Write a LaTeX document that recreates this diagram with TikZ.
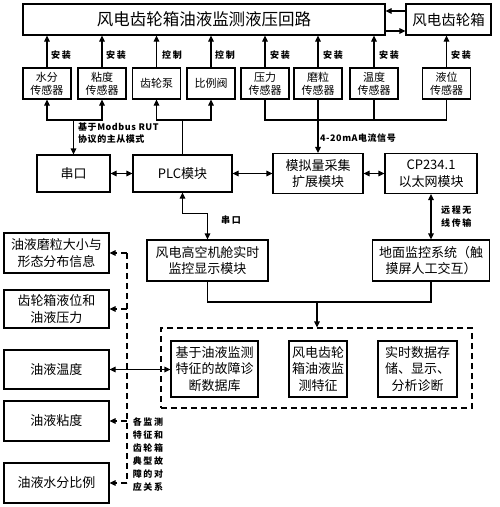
\documentclass[tikz,border=0pt]{standalone}
\usepackage{fontspec}
\setmainfont{Noto Sans CJK SC}
\usetikzlibrary{arrows.meta}
\begin{document}
\begin{tikzpicture}[x=1pt,y=-1pt,
 box/.style={draw,line width=1.1pt,inner sep=0pt,align=center,font=\fontsize{13}{16.5}\selectfont},
 sbox/.style={box,minimum width=48pt,minimum height=31pt,font=\fontsize{11}{13}\selectfont},
 lbl/.style={inner sep=0pt,anchor=west,align=left,font=\fontsize{9}{12}\selectfont\bfseries},
 slbl/.style={lbl,font=\fontsize{9}{13}\selectfont\bfseries\addfontfeature{LetterSpace=18}},
 ar/.style={-{Triangle[length=6pt,width=5.5pt]},line width=1.1pt},
 dar/.style={{Triangle[length=6pt,width=5.5pt]}-{Triangle[length=6pt,width=5.5pt]},line width=1.1pt},
 ln/.style={line width=1.1pt},
 dsh/.style={line width=1.1pt,dash pattern=on 6pt off 4pt}
]
\path[use as bounding box] (0,0) rectangle (500,507);

% top row
\node[box,minimum width=362pt,minimum height=31pt,font=\fontsize{16.5}{20}\selectfont] (main) at (204,19.5) {风电齿轮箱油液监测液压回路};
\node[box,minimum width=85pt,minimum height=31pt,font=\fontsize{14.5}{18}\selectfont] (gear) at (448.5,19.5) {风电齿轮箱};
\draw[ar] ([yshift=8.5pt]gear.west) -- ([yshift=8.5pt]main.east);
\draw[ar] ([yshift=-11.5pt]main.east) -- ([yshift=-11.5pt]gear.west);

% sensors
\node[sbox] (s1) at (47,83.5) {水分\\传感器};
\node[sbox] (s2) at (102,83.5) {粘度\\传感器};
\node[sbox] (s3) at (156.5,83.5) {齿轮泵};
\node[sbox] (s4) at (211,83.5) {比例阀};
\node[sbox] (s5) at (265,83.5) {压力\\传感器};
\node[sbox] (s6) at (318,83.5) {磨粒\\传感器};
\node[sbox] (s7) at (374,83.5) {温度\\传感器};
\node[sbox] (s8) at (446.5,83.5) {液位\\传感器};

\foreach \s in {s1,s2,s3,s4,s5,s6,s7} {\draw[ar] (\s.north) -- (\s.north |- main.south);}
\draw[ar] (s8.north) -- (s8.north |- gear.south);

\node[slbl] at (51,55) {安装};
\node[slbl] at (106,55) {安装};
\node[slbl] at (162,55) {控制};
\node[slbl] at (215,55) {控制};
\node[slbl] at (270,55) {安装};
\node[slbl] at (323,55) {安装};
\node[slbl] at (379,55) {安装};
\node[slbl] at (451,55) {安装};

% middle row
\node[box,minimum width=73pt,minimum height=37pt] (com) at (73.5,173.5) {串口};
\node[box,minimum width=99pt,minimum height=37pt] (plc) at (182.5,173.5) {PLC模块};
\node[box,minimum width=90pt,minimum height=40pt] (adc) at (318,173.5) {模拟量采集\\扩展模块};
\node[box,minimum width=92pt,minimum height=40pt] (cp) at (431,173.5) {CP234.1\\以太网模块};

% buses
\coordinate (b1) at (73.5,120);
\coordinate (b2) at (182.5,120);
\coordinate (b3) at (318,120);
\draw[ar] (b1) -| (s1.south);
\draw[ar] (b1) -| (s2.south);
\draw[ar] (b1) -- (com.north);
\draw[ar] (b2) -| (s3.south);
\draw[ar] (b2) -| (s4.south);
\draw[ln] (plc.north) -- (b2);
\draw[ln] (s5.south) |- (s8.south |- b3) -- (s8.south);
\draw[ln] (s6.south) -- (b3);
\draw[ln] (s7.south) -- (s7.south |- b3);
\draw[ar] (b3) -- (adc.north);

\node[lbl,font=\fontsize{9}{12}\selectfont\bfseries\addfontfeature{LetterSpace=6}] at (78,133) {基于Modbus RUT\\协议的主从模式};
\node[lbl,font=\fontsize{9}{12}\selectfont\bfseries\addfontfeature{LetterSpace=6}] at (320,138) {4-20mA电流信号};

\draw[dar] (com) -- (plc);
\draw[dar] (plc) -- (adc);
\draw[dar] (adc) -- (cp);

% lower row
\node[box,minimum width=121pt,minimum height=41pt] (hmi) at (207.5,260.5) {风电高空机舱实时\\监控显示模块};
\node[box,minimum width=117pt,minimum height=41pt] (gnd) at (431,260.5) {地面监控系统（触\\摸屏人工交互）};
\draw[dar] (plc.south) -- ++(0,21) -| (hmi.north);
\node[slbl] at (221,220) {串口};
\draw[dar] (cp) -- (gnd);
\node[slbl] at (441,216.5) {远程无\\线传输};

% dashed group
\node[dsh,draw,minimum width=311pt,minimum height=80pt,inner sep=0pt] (grp) at (316.5,368) {};
\node[box,minimum width=87pt,minimum height=56pt] (db) at (214.5,369) {基于油液监测\\特征的故障诊\\断数据库};
\node[box,minimum width=58pt,minimum height=56pt] (feat) at (318,369) {风电齿轮\\箱油液监\\测特征};
\node[box,minimum width=79pt,minimum height=56pt] (store) at (417.5,369) {实时数据存\\储、显示、\\分析诊断};
\coordinate (j) at (317,302);
\draw[ln] (hmi.south) |- (j) -| (gnd.south);
\draw[ar] (j) -- (j |- grp.north);

% left column
\node[box,minimum width=105pt,minimum height=40pt] (f1) at (56.5,253) {油液磨粒大小与\\形态分布信息};
\node[box,minimum width=105pt,minimum height=38pt] (f2) at (56.5,309) {齿轮箱液位和\\油液压力};
\node[box,minimum width=105pt,minimum height=39pt] (f3) at (56.5,369.5) {油液温度};
\node[box,minimum width=105pt,minimum height=40pt] (f4) at (56.5,421) {油液粘度};
\node[box,minimum width=105pt,minimum height=40pt] (f5) at (56.5,483) {油液水分比例};

\coordinate (d) at (127,0);
\draw[dsh] (d |- f1.east) -- (d |- f5.east);
\foreach \f in {f1,f2,f4,f5} {\draw[dsh,-{Triangle[length=6pt,width=5.5pt]}] (d |- \f.east) -- (\f.east);}
\draw[dar] (f3.east) -- (f3.east -| db.west);

\node[slbl,anchor=center] (rel) at (148,454.5) {各监测\\特征和\\齿轮箱\\典型故\\障的对\\应关系};
\end{tikzpicture}
\end{document}
